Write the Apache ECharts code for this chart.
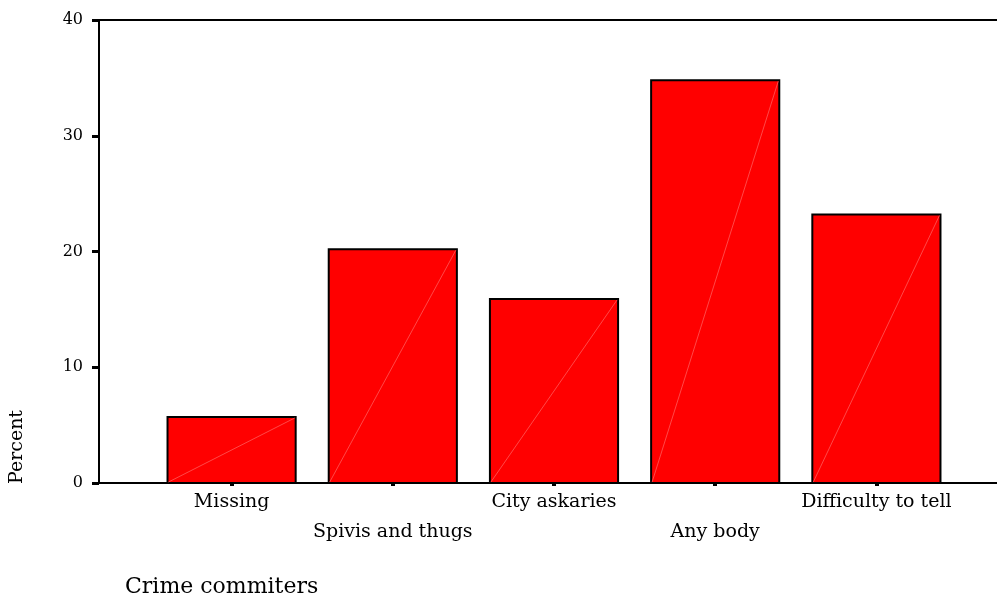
<!DOCTYPE html>
<html>
<head>
<meta charset="utf-8">
<script src="https://cdn.jsdelivr.net/npm/echarts@6/dist/echarts.min.js"></script>
<style>html,body{margin:0;padding:0;background:#fff}#c{width:997px;height:594px}</style>
</head>
<body>
<div id="c"></div>
<script>
const categories = ['Missing', 'Spivis and thugs', 'City askaries', 'Any body', 'Difficulty to tell'];
const percentValues = [5.7, 20.2, 15.9, 34.8, 23.2];
const yTicks = [0, 10, 20, 30, 40];

const FONT = '"DejaVu Serif", "Liberation Serif", serif';
const chart = echarts.init(document.getElementById('c'));
chart.setOption({
  animation: false,
  backgroundColor: '#fff',
  grid: [
    { left: 99, right: 0, top: 20, bottom: 111 },
    { left: 151, right: 40, top: 20, bottom: 111 }
  ],
  xAxis: [
    { gridIndex: 0, type: 'value', min: 0, max: 1, position: 'bottom',
      axisLine: { show: true, lineStyle: { color: '#000', width: 2 } },
      axisTick: { show: false }, axisLabel: { show: false }, splitLine: { show: false } },
    { gridIndex: 0, type: 'value', min: 0, max: 1, position: 'top',
      axisLine: { show: true, lineStyle: { color: '#000', width: 2 } },
      axisTick: { show: false }, axisLabel: { show: false }, splitLine: { show: false } },
    { gridIndex: 1, type: 'category', data: categories, position: 'bottom',
      axisLine: { show: false },
      axisTick: { show: true, alignWithLabel: true, length: 3, lineStyle: { color: '#000', width: 4 } },
      axisLabel: {
        interval: 0, margin: 4, fontFamily: FONT, fontSize: 19, color: '#000', lineHeight: 30,
        hideOverlap: false,
        formatter: (v, i) => (i % 2 === 1 ? '\n' + v : v)
      },
      splitLine: { show: false } }
  ],
  yAxis: [
    { gridIndex: 0, type: 'value', min: 0, max: 40, interval: 10,
      axisLine: { show: true, lineStyle: { color: '#000', width: 2 } },
      axisTick: { show: true, inside: false, length: 7, lineStyle: { color: '#000', width: 3 } },
      axisLabel: { margin: 16, fontFamily: FONT, fontSize: 16, color: '#000',
        formatter: v => String(v) },
      splitLine: { show: false } },
    { gridIndex: 1, type: 'value', min: 0, max: 40, interval: 10, show: false }
  ],
  series: [{
    type: 'custom',
    xAxisIndex: 2, yAxisIndex: 1,
    data: percentValues.map((v, i) => [i, v]),
    renderItem: function (params, api) {
      const top = api.coord([api.value(0), api.value(1)]);
      const base = api.coord([api.value(0), 0]);
      const w = api.size([1, 0])[0] * 0.795;
      const x0 = top[0] - w / 2, x1 = top[0] + w / 2;
      return {
        type: 'group',
        children: [
          { type: 'rect', shape: { x: x0, y: top[1], width: w, height: base[1] - top[1] },
            style: { fill: '#ff0000', stroke: '#000', lineWidth: 2 } },
          { type: 'line', shape: { x1: x0 + 1, y1: base[1] - 1, x2: x1 - 1, y2: top[1] + 1 },
            style: { stroke: '#ff5a5a', lineWidth: 0.8 } }
        ]
      };
    }
  }],
  graphic: [
    { type: 'text', left: 8, top: 410, rotation: Math.PI / 2,
      style: { text: 'Percent', fontFamily: FONT, fontSize: 19, fill: '#000' } },
    { type: 'text', left: 125, top: 576,
      style: { text: 'Crime commiters', fontFamily: FONT, fontSize: 22, fill: '#000' } }
  ]
});
</script>
</body>
</html>
